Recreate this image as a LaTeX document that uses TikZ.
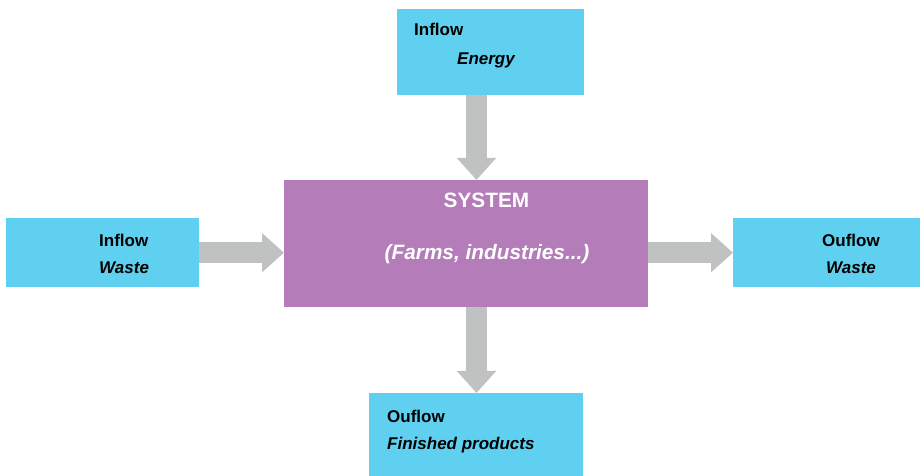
\documentclass[tikz,border=0pt]{standalone}
\usepackage{fontspec}
\setmainfont{Liberation Sans}
\usetikzlibrary{arrows.meta}
\definecolor{boxcyan}{RGB}{96,208,240}
\definecolor{sysviolet}{RGB}{180,124,184}
\definecolor{arrowgray}{RGB}{192,193,193}
\begin{document}
\begin{tikzpicture}[x=1bp,y=-1bp,
  flowbox/.style={fill=boxcyan,draw=none,inner sep=0,anchor=north west},
  sysbox/.style={fill=sysviolet,draw=none,inner sep=0,anchor=north west},
  lbl/.style={inner sep=0,font=\fontsize{17bp}{19bp}\selectfont\bfseries},
  ilbl/.style={lbl,font=\fontsize{17bp}{19bp}\selectfont\bfseries\itshape},
  slbl/.style={inner sep=0,text=white,font=\fontsize{20.8bp}{23bp}\selectfont\bfseries},
  islbl/.style={slbl,font=\fontsize{20.8bp}{23bp}\selectfont\bfseries\itshape},
  flowarrow/.style={draw=arrowgray,line width=21bp,-{Triangle[width=38bp,length=22bp]}}
]
\useasboundingbox (0,0) rectangle (923,476);
% boxes
\node[flowbox,minimum width=187bp,minimum height=86bp] (top) at (397,9) {};
\node[flowbox,minimum width=193bp,minimum height=69bp] (left) at (6,218) {};
\node[flowbox,minimum width=187bp,minimum height=69bp] (right) at (733,218) {};
\node[flowbox,minimum width=214bp,minimum height=85bp] (bottom) at (369,393) {};
\node[sysbox,minimum width=364bp,minimum height=127bp] (sys) at (284,180) {};
% arrow anchors
\coordinate (vx) at (476.5,0);
% arrows
\draw[flowarrow] (vx |- top.south) -- (vx |- sys.north);
\draw[flowarrow] (left.east) -- (left.east -| sys.west);
\draw[flowarrow] (sys.east |- right.west) -- (right.west);
\draw[flowarrow] (vx |- sys.south) -- (vx |- bottom.north);
% texts
\node[lbl,anchor=base west] (tin) at (414,36) {Inflow};
\node[ilbl,anchor=base west] (ten) at (457,65) {Energy};
\node[lbl,anchor=base west] (lin) at (99,247) {Inflow};
\node[ilbl,anchor=base west] (lwa) at (99,274) {Waste};
\node[lbl,anchor=base] (rou) at (851,247) {Ouflow};
\node[ilbl,anchor=base] (rwa) at (851,274) {Waste};
\node[lbl,anchor=base west] (bou) at (387,422) {Ouflow};
\node[ilbl,anchor=base west] (bfi) at (387,449) {Finished products};
\node[slbl,anchor=base] (sname) at (486.5,208) {SYSTEM};
\node[islbl,anchor=base] (sdesc) at (487,260) {(Farms, industries...)};
\end{tikzpicture}
\end{document}
